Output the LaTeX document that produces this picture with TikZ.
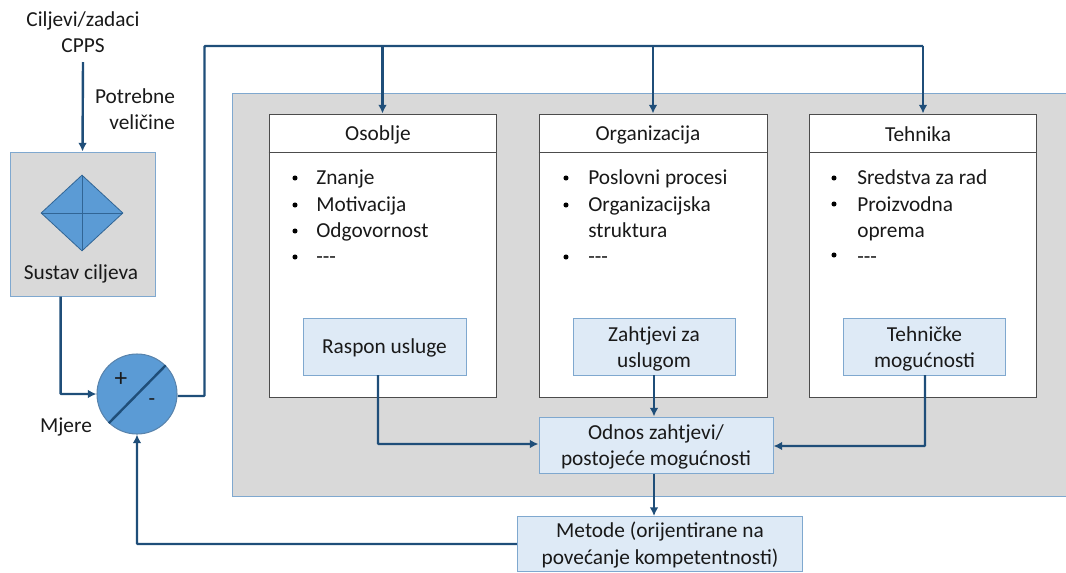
\documentclass[tikz,border=0pt]{standalone}
\usepackage{fontspec}
\setmainfont{Carlito}
\usetikzlibrary{arrows.meta,shapes.geometric,calc}
\definecolor{conn}{HTML}{1F4E79}
\definecolor{edge}{HTML}{7FA8CF}
\definecolor{panelg}{HTML}{D9D9D9}
\definecolor{lightb}{HTML}{DEEAF6}
\definecolor{midb}{HTML}{5B9BD5}
\tikzset{
 px/.style={x=0.75pt,y=-0.75pt},
 txt/.style={font=\fontsize{16}{19.6}\selectfont,text=black!90,inner sep=0pt,align=center},
 link/.style={draw=conn,line width=1.8pt,-{Latex[length=6.5pt,width=6.5pt]},rounded corners=0.6pt},
 plain/.style={draw=conn,line width=1.8pt},
 lbox/.style={draw=edge,fill=lightb,line width=0.75pt,inner sep=0pt},
 wbox/.style={draw=black!70,fill=white,line width=0.75pt},
 gbox/.style={draw=edge,fill=panelg,line width=0.75pt},
 bul/.style={txt,anchor=base west,align=left},
}
\begin{document}
\begin{tikzpicture}[px]
\useasboundingbox (0,0) rectangle (1066,572);
% panels
\path[gbox] (232,93) -- (1067,93) -- (1067,496) -- (232,496) -- cycle;
\node[gbox,minimum width=108.75pt,minimum height=108pt,inner sep=0pt] (sys) at (82.5,224) {};
% column boxes
\node[wbox,minimum width=170.25pt,minimum height=212.25pt,inner sep=0pt] (os) at (382.5,255.5) {};
\node[wbox,minimum width=171pt,minimum height=212.25pt,inner sep=0pt] (org) at (653,255.5) {};
\node[wbox,minimum width=170.25pt,minimum height=212.25pt,inner sep=0pt] (teh) at (923,255.5) {};
\draw[black!70,line width=0.75pt] (os.west |- 0,152.5) -- (os.east |- 0,152.5);
\draw[black!70,line width=0.75pt] (org.west |- 0,152.5) -- (org.east |- 0,152.5);
\draw[black!70,line width=0.75pt] (teh.west |- 0,152.5) -- (teh.east |- 0,152.5);
\node[txt] (osT) at (378,134.5) {Osoblje};
\node[txt] (orgT) at (648,134.5) {Organizacija};
\node[txt] (tehT) at (918,134.5) {Tehnika};
% bullets
\foreach \bx/\tx/\nm/\ty/\lab in {
 295/316/a1/184.5/Znanje, 295/316/a2/211.5/Motivacija, 295/316/a3/237.5/Odgovornost, 295/316/a4/263.5/-{}-{}-,
 566/588/b1/184.5/Poslovni procesi, 566/588/b2/211.5/Organizacijska, 566/588/b3/237.5/struktura, 566/588/b4/263.5/-{}-{}-,
 836/857/c1/184.5/Sredstva za rad, 836/857/c2/211.5/Proizvodna, 836/857/c3/237.5/oprema, 836/857/c4/263.5/-{}-{}-}{
 \node[bul] (\nm) at (\tx,\ty) {\lab};
}
\foreach \bx/\nm/\ty in {295/da1/178,295/da2/205,295/da3/231,295/da4/257,
 566/db1/178,566/db2/205,566/db4/257,
 834/dc1/178,834/dc2/204,834/dc4/255}{
 \node[circle,fill=black,inner sep=0pt,minimum size=3.8pt] (\nm) at (\bx,\ty) {};
}
% light boxes
\node[lbox,minimum width=122.25pt,minimum height=42.75pt] (ras) at (384.5,347) {};
\node[lbox,minimum width=121.5pt,minimum height=42.75pt] (zah) at (654,347) {};
\node[lbox,minimum width=121.5pt,minimum height=42.75pt] (tm) at (924.5,347) {};
\node[lbox,minimum width=175.5pt,minimum height=42pt] (odn) at (656,445) {};
\node[lbox,minimum width=214pt,minimum height=41.25pt] (met) at (660,544) {};
\node[txt] (rasT) at ($(ras)+(0,1)$) {Raspon usluge};
\node[txt] (zahT) at ($(zah)+(0,1.5)$) {Zahtjevi za\\uslugom};
\node[txt] (tmT) at ($(tm)+(0,1.5)$) {Tehničke\\mogućnosti};
\node[txt] (odnT) at ($(odn)+(0,1.5)$) {Odnos zahtjevi/\\postojeće mogućnosti};
\node[txt] (metT) at ($(met)+(0,1)$) {Metode (orijentirane na\\povećanje kompetentnosti)};
% goal system
\node[diamond,draw=conn!70!midb,fill=midb,line width=0.6pt,minimum width=61.5pt,minimum height=57pt,inner sep=0pt] (dia) at (82,213) {};
\draw[conn!70!midb,line width=0.7pt] (dia.west) -- (dia.east) (dia.north) -- (dia.south);
\node[txt] (sysT) at (81,274) {Sustav ciljeva};
% comparator
\node[circle,draw=edge!60!conn,fill=midb,line width=0.8pt,minimum size=60pt,inner sep=0pt] (cmp) at (137,394) {};
\draw[conn,line width=1.8pt] (cmp.45) -- (cmp.226);
\node[txt,font=\fontsize{19}{19}\selectfont] (plus) at (121,380) {+};
\node[txt,font=\fontsize{16}{19}\selectfont] (minus) at (152,402) {-};
% labels
\node[txt] (goal) at (83,32) {Ciljevi/zadaci\\CPPS};
\node[txt,align=right] (cpps) at (135,109) {Potrebne\\veličine};
\node[txt] (mj) at (66,427) {Mjere};
% connectors
\coordinate (g1) at (83,62);
\draw[link] (g1) -- (sys.north);
\coordinate (sysout) at ($(sys.south west)!0.35!(sys.south east)$);
\draw[link] (sysout) |- (cmp.west);
\coordinate (c1) at (204.5,396);
\coordinate (c2) at (204.5,46);
\coordinate (c3b) at (923,46);
\draw[plain,rounded corners=0.6pt] (cmp.east |- c1) -- (c1) -- (c2) -- (c3b);
\draw[link] (c3b) -- (teh.north);
\draw[link] (os.north |- c2) -- (os.north);
\draw[link] (org.north |- c2) -- (org.north);
\coordinate (r1) at (378,375);
\draw[link] (r1) |- (odn.west |- 0,444);
\coordinate (t1) at (925,375);
\draw[link] (t1) |- (odn.east |- 0,446);
\coordinate (z1) at (654,375);
\coordinate (z2) at (654,416.5);
\coordinate (o1) at (654,473.5);
\coordinate (o2) at (654,516);
\draw[link] (z1) -- (z2);
\draw[link] (o1) -- (o2);
\draw[link] (met.west) -| (cmp.south);
\end{tikzpicture}
\end{document}
